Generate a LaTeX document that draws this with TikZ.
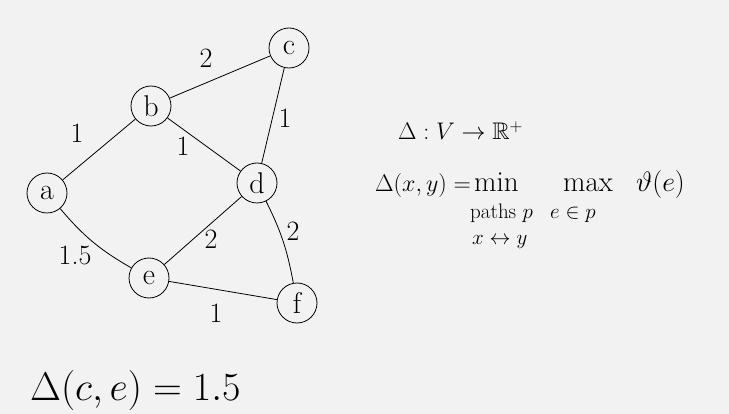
\RequirePackage{fix-cm}
\documentclass[tikz,border=0pt]{standalone}
\usepackage{amsmath, amssymb}
\usepackage{tikz}
\usetikzlibrary{positioning}

\begin{document}
\begin{tikzpicture}[
  x=1pt, y=-1pt,
  vertex/.style={draw, circle, thick, minimum size=40pt, inner sep=0pt, font=\fontsize{30}{30}\selectfont},
  edge/.style={thick},
  weight/.style={font=\fontsize{28}{28}\selectfont},
  formula/.style={font=\fontsize{24}{28}\selectfont, inner sep=0pt, anchor=base west},
  under/.style={font=\fontsize{21}{22}\selectfont, inner sep=0pt, anchor=base west},
]
  \fill[black!5] (0,0) rectangle (729,414);
  \useasboundingbox (0,0) rectangle (729,414);

  % vertices
  \node[vertex] (a) at (47,193) {a};
  \node[vertex] (b) at (151,106) {b};
  \node[vertex] (c) at (289,48) {c};
  \node[vertex] (d) at (257,183) {d};
  \node[vertex] (e) at (149,278) {e};
  \node[vertex] (f) at (297,303) {f};

  % edges
  \draw[edge] (a) -- (b);
  \draw[edge] (b) -- (c);
  \draw[edge] (b) -- (d);
  \draw[edge] (c) -- (d);
  \draw[edge] (a) to[bend right=10] (e);
  \draw[edge] (e) -- (d);
  \draw[edge] (d) to[bend left=8] (f);
  \draw[edge] (e) -- (f);

  % weights
  \node[weight] (wab) at (77,133) {1};
  \node[weight] (wbc) at (206,58) {2};
  \node[weight] (wbd) at (183,146) {1};
  \node[weight] (wcd) at (285,118) {1};
  \node[weight] (wae) at (75,255) {1.5};
  \node[weight] (wde) at (211,239) {2};
  \node[weight] (wdf) at (293,231) {2};
  \node[weight] (wef) at (216,313) {1};

  % text
  \node[formula] (dom) at (398,140) {$\Delta : V \to \mathbb{R}^{+}$};
  \node[formula] (lhs) at (375,192) {$\Delta(x,y) =$};
  \node[formula, font=\fontsize{29}{30}\selectfont] (min) at (474,192) {min};
  \node[formula, font=\fontsize{29}{30}\selectfont] (max) at (563,192) {max};
  \node[formula, font=\fontsize{28}{30}\selectfont] (val) at (636,192) {$\vartheta(e)$};
  \node[under] (paths) at (470,219) {paths $p$};
  \node[under] (inp) at (550,219) {$e \in p$};
  \node[under] (ends) at (472,245) {$x \leftrightarrow y$};
  \node[formula, font=\fontsize{40}{44}\selectfont] (ex) at (30,400) {$\Delta(c,e) = 1.5$};
\end{tikzpicture}
\end{document}
